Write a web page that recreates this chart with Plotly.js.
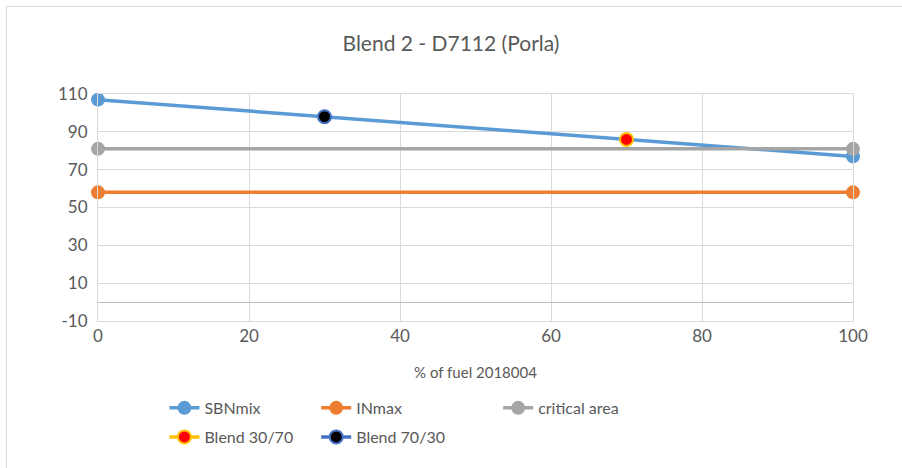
<!DOCTYPE html>
<html>
<head>
<meta charset="utf-8">
<script src="https://cdn.plot.ly/plotly-3.0.1.min.js"></script>
<style>
  html, body { margin: 0; padding: 0; background: #ffffff; }
  #wrap { position: relative; width: 902px; height: 468px; overflow: hidden; }
  #chart { position: absolute; left: 0; top: 0; width: 902px; height: 468px; }
  #frame { position: absolute; left: 6px; top: 6px; width: 920px; height: 480px;
           border: 1px solid #d9d9d9; pointer-events: none; }
</style>
</head>
<body>
<div id="wrap">
  <div id="chart"></div>
  <div id="frame"></div>
</div>
<script>
// Share of fuel 2018004 in the blend (%)
const fuelShare = [0, 100];
// Solubility blending number of the mix
const sbnMix = [107, 77];
// Insolubility number (max)
const inMax = [58, 58];
// Critical area threshold
const criticalArea = [81, 81];
// The two evaluated blends
const blend3070X = [70];
const blend3070Y = [86];
const blend7030X = [30];
const blend7030Y = [98];

const xTicks = [0, 20, 40, 60, 80, 100];
const yTicks = [-10, 10, 30, 50, 70, 90, 110];

const textColor = '#595959';
const gridColor = '#d9d9d9';
const font = 'Lato, "Open Sans", "DejaVu Sans", sans-serif';

const traces = [
  { x: fuelShare, y: sbnMix, name: 'SBNmix', mode: 'lines+markers', cliponaxis: false,
    line: { color: '#5b9bd5', width: 3.5 }, marker: { color: '#5b9bd5', size: 14 },
    legend: 'legend' },
  { x: fuelShare, y: inMax, name: 'INmax', mode: 'lines+markers', cliponaxis: false,
    line: { color: '#ed7d31', width: 3.5 }, marker: { color: '#ed7d31', size: 14 },
    legend: 'legend2' },
  { x: fuelShare, y: criticalArea, name: 'critical area', mode: 'lines+markers', cliponaxis: false,
    line: { color: '#a5a5a5', width: 3.5 }, marker: { color: '#a5a5a5', size: 14 },
    legend: 'legend3' },
  { x: blend3070X, y: blend3070Y, name: 'Blend 30/70', mode: 'lines+markers', cliponaxis: false,
    line: { color: '#ffc000', width: 3.5 },
    marker: { color: '#ff0000', size: 13, line: { color: '#ffc000', width: 2 } },
    legend: 'legend4' },
  { x: blend7030X, y: blend7030Y, name: 'Blend 70/30', mode: 'lines+markers', cliponaxis: false,
    line: { color: '#4472c4', width: 3.5 },
    marker: { color: '#000000', size: 13, line: { color: '#4472c4', width: 2 } },
    legend: 'legend5' }
];

function legendAt(x, y) {
  return {
    x: x, y: y, xanchor: 'left', yanchor: 'middle',
    orientation: 'h', bgcolor: 'rgba(0,0,0,0)', borderwidth: 0,
    font: { family: font, size: 16, color: textColor },
    itemwidth: 30, tracegroupgap: 0
  };
}

const layout = {
  width: 902, height: 468,
  paper_bgcolor: '#ffffff', plot_bgcolor: '#ffffff',
  margin: { l: 98, r: 49, t: 94, b: 147 },
  font: { family: font, color: textColor },
  title: { text: 'Blend 2 - D7112 (Porla)', x: 0.5, xanchor: 'center', y: 0.906, yanchor: 'middle',
           font: { family: font, size: 21, color: textColor } },
  xaxis: {
    range: [0, 100], tickvals: xTicks, ticktext: xTicks.map(String),
    showgrid: true, gridcolor: gridColor, gridwidth: 1,
    showline: true, linecolor: gridColor, mirror: true, zeroline: false,
    ticks: '', tickfont: { family: font, size: 17, color: textColor },
    title: { text: '% of fuel 2018004', font: { family: font, size: 15, color: textColor }, standoff: 22 },
    fixedrange: true
  },
  yaxis: {
    range: [-10, 110], tickvals: yTicks, ticktext: yTicks.map(String),
    showgrid: true, gridcolor: gridColor, gridwidth: 1,
    showline: true, linecolor: gridColor, mirror: true,
    zeroline: true, zerolinecolor: '#bfbfbf', zerolinewidth: 1,
    ticks: '', ticklabelstandoff: 6, tickfont: { family: font, size: 17, color: textColor },
    fixedrange: true
  },
  showlegend: true,
  legend: legendAt(0.088, -0.383),
  legend2: legendAt(0.289, -0.383),
  legend3: legendAt(0.530, -0.383),
  legend4: legendAt(0.088, -0.511),
  legend5: legendAt(0.289, -0.511)
};

Plotly.newPlot('chart', traces, layout, { displayModeBar: false, staticPlot: true });
</script>
</body>
</html>
